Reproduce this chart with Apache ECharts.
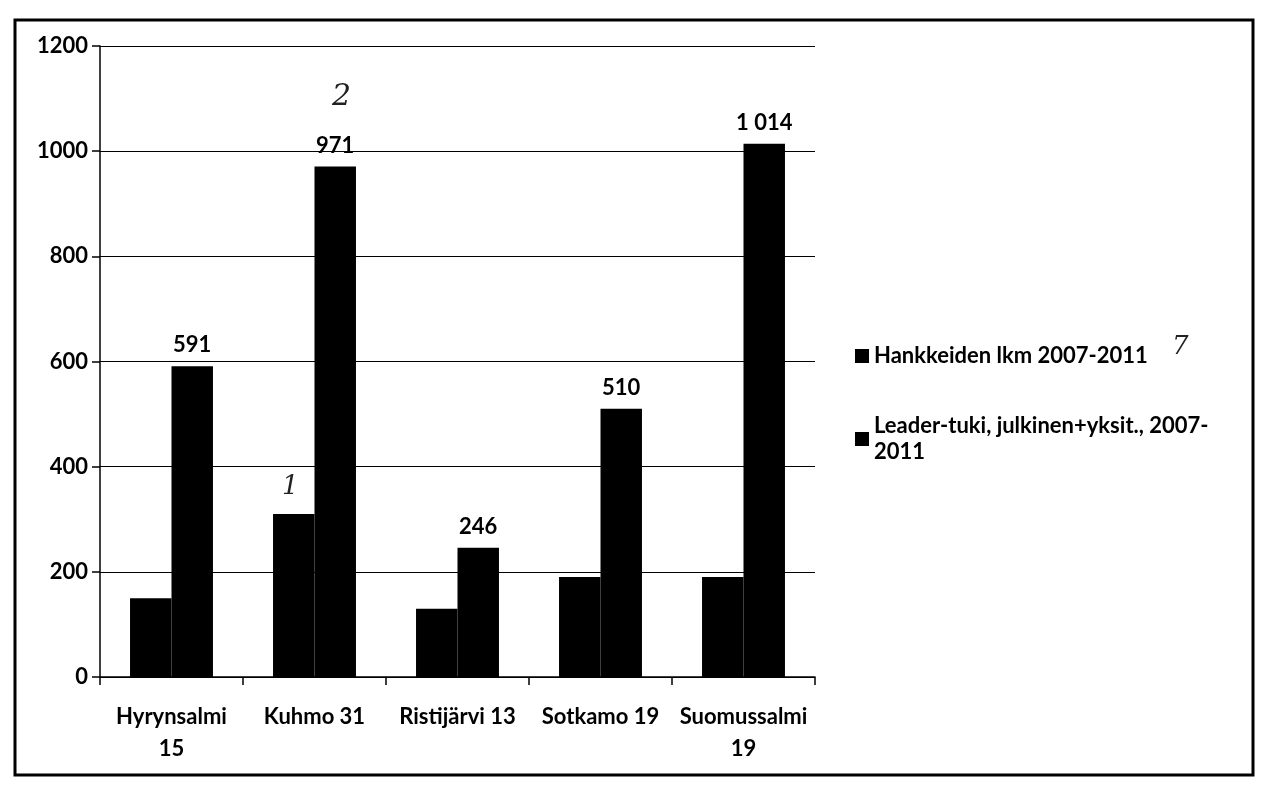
<!DOCTYPE html>
<html>
<head>
<meta charset="utf-8">
<script src="https://cdn.jsdelivr.net/npm/echarts@6/dist/echarts.min.js"></script>
<style>
html,body{margin:0;padding:0;background:#fff;}
#chart{width:1263px;height:799px;}
</style>
</head>
<body>
<div id="chart"></div>
<script>
const categories = ['Hyrynsalmi\n15', 'Kuhmo 31', 'Ristijärvi 13', 'Sotkamo 19', 'Suomussalmi\n19'];
const seriesNames = ['Hankkeiden lkm 2007-2011', 'Leader-tuki, julkinen+yksit., 2007-\n2011'];
const hankkeet = [150, 310, 130, 190, 190];
const leaderTuki = [591, 971, 246, 510, 1014];
const yTicks = { min: 0, max: 1200, interval: 200 };

const font = 'Lato, "Open Sans", sans-serif';
const fs = 22;
const chart = echarts.init(document.getElementById('chart'));
chart.setOption({
  backgroundColor: '#ffffff',
  animation: false,
  textStyle: { fontFamily: font, color: '#000' },
  grid: { left: 100, right: 448, top: 46, bottom: 122, containLabel: false },
  legend: {
    orient: 'vertical',
    left: 850,
    top: 338,
    itemGap: 44,
    itemWidth: 14,
    itemHeight: 14,
    icon: 'rect',
    textStyle: { fontFamily: font, fontSize: fs, fontWeight: 'bold', color: '#000', lineHeight: 26 },
    data: seriesNames
  },
  xAxis: {
    type: 'category',
    data: categories,
    axisLine: { lineStyle: { color: '#000', width: 1.5 } },
    axisTick: { show: true, length: 8, lineStyle: { color: '#000', width: 1.5 } },
    axisLabel: { fontFamily: font, fontSize: fs, fontWeight: 'bold', color: '#000', margin: 24, lineHeight: 32, interval: 0 }
  },
  yAxis: {
    type: 'value',
    min: yTicks.min, max: yTicks.max, interval: yTicks.interval,
    axisLine: { show: true, lineStyle: { color: '#000', width: 1.5 } },
    axisTick: { show: true, length: 8, lineStyle: { color: '#000', width: 1.5 } },
    splitLine: { show: true, lineStyle: { color: '#000', width: 1.2 } },
    axisLabel: { fontFamily: font, fontSize: fs, fontWeight: 'bold', color: '#000', margin: 12, formatter: v => String(v) }
  },
  series: [
    {
      name: seriesNames[0], type: 'bar', data: hankkeet,
      itemStyle: { color: '#000' }, barGap: '0%', barCategoryGap: '42%'
    },
    {
      name: seriesNames[1], type: 'bar', data: leaderTuki,
      itemStyle: { color: '#000' },
      label: {
        show: true, position: 'top', distance: 10,
        fontFamily: font, fontSize: fs, fontWeight: 'bold', color: '#000',
        formatter: p => p.value >= 1000 ? String(p.value).replace(/(\d)(\d{3})$/, '$1 $2') : String(p.value)
      }
    }
  ],
  graphic: [
    { type: 'rect', shape: { x: 15, y: 20, width: 1238, height: 755 }, style: { fill: 'none', stroke: '#000', lineWidth: 3 }, silent: true },
    { type: 'text', left: 332, top: 82, style: { text: '2', fontFamily: '"DejaVu Serif"', fontStyle: 'italic', fontSize: 30, fill: '#222' } },
    { type: 'text', left: 282, top: 474, style: { text: '1', fontFamily: '"DejaVu Serif"', fontStyle: 'italic', fontSize: 26, fill: '#222' } },
    { type: 'text', left: 1172, top: 334, style: { text: '7', fontFamily: '"DejaVu Serif"', fontStyle: 'italic', fontSize: 26, fill: '#222' } }
  ]
});
</script>
</body>
</html>
